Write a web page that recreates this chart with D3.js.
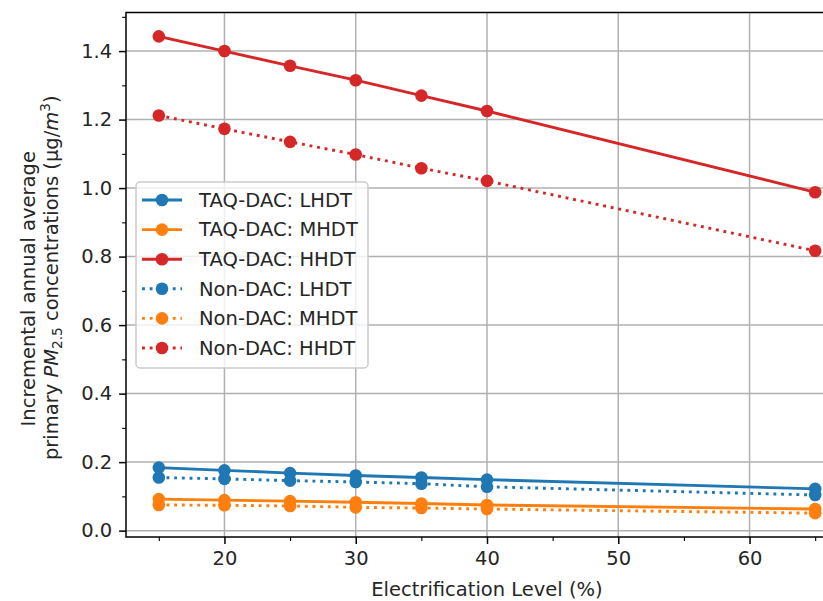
<!DOCTYPE html>
<html>
<head>
<meta charset="utf-8">
<script src="https://cdn.jsdelivr.net/npm/d3@7"></script>
<style>
  html, body { margin: 0; padding: 0; background: #fff; }
  svg { display: block; font-family: "DejaVu Sans", sans-serif; }
</style>
</head>
<body>
<svg id="chart" width="823" height="601"></svg>
<script>
// Electrification levels (%) on the x axis
const levels = [15, 20, 25, 30, 35, 40, 65];

// Incremental annual average primary PM2.5 (µg/m³)
const taqLHDT = [0.184, 0.176, 0.168, 0.161, 0.155, 0.149, 0.122];
const taqMHDT = [0.092, 0.089, 0.086, 0.083, 0.079, 0.075, 0.063];
const taqHHDT = [1.443, 1.400, 1.357, 1.315, 1.270, 1.225, 0.988];
const nonLHDT = [0.155, 0.151, 0.146, 0.142, 0.137, 0.128, 0.104];
const nonMHDT = [0.075, 0.074, 0.072, 0.068, 0.066, 0.063, 0.051];
const nonHHDT = [1.212, 1.173, 1.135, 1.098, 1.058, 1.021, 0.817];

const seriesNames = ["TAQ-DAC: LHDT", "TAQ-DAC: MHDT", "TAQ-DAC: HHDT",
                     "Non-DAC: LHDT", "Non-DAC: MHDT", "Non-DAC: HHDT"];
const seriesValues = [taqLHDT, taqMHDT, taqHHDT, nonLHDT, nonMHDT, nonHHDT];

const xTicks = [20, 30, 40, 50, 60];
const xMinorTicks = [15, 25, 35, 45, 55, 65];
const yTicks = [0.0, 0.2, 0.4, 0.6, 0.8, 1.0, 1.2, 1.4];
const yMinorTicks = [0.1, 0.3, 0.5, 0.7, 0.9, 1.1, 1.3, 1.5];

// styling
const colors = ["#1f77b4", "#ff7f0e", "#d62728", "#1f77b4", "#ff7f0e", "#d62728"];
const dotted = [false, false, false, true, true, true];
const FS = 19.5;
const LW = 2.9;
const MR = 6.3;

const svg = d3.select("#chart");
const plot = { left: 126, right: 848, top: 12.5, bottom: 537 };

// axis limits with 5% padding around the data
function padded(lo, hi) { const r = hi - lo; return [lo - 0.05 * r, hi + 0.05 * r]; }
const allVals = seriesValues.flat();
const xDom = padded(d3.min(levels), d3.max(levels));
const yDom = padded(d3.min(allVals), d3.max(allVals));

const x = d3.scaleLinear().domain(xDom).range([plot.left, plot.right]);
const y = d3.scaleLinear().domain(yDom).range([plot.bottom, plot.top]);

svg.append("defs").append("clipPath").attr("id", "clip")
  .append("rect").attr("x", plot.left).attr("y", plot.top)
  .attr("width", plot.right - plot.left).attr("height", plot.bottom - plot.top);

// grid
const grid = svg.append("g").attr("stroke", "#b0b0b0").attr("stroke-width", 1.5);
xTicks.forEach(t => grid.append("line")
  .attr("x1", x(t)).attr("x2", x(t)).attr("y1", plot.top).attr("y2", plot.bottom));
yTicks.forEach(t => grid.append("line")
  .attr("x1", plot.left).attr("x2", plot.right).attr("y1", y(t)).attr("y2", y(t)));

// axes
const xAxis = d3.axisBottom(x).tickValues(xTicks).tickFormat(d3.format("d"))
  .tickSize(6.9).tickPadding(6.9);
const xAxisMinor = d3.axisBottom(x).tickValues(xMinorTicks).tickFormat("").tickSize(3.9);
const yAxis = d3.axisLeft(y).tickValues(yTicks).tickFormat(d3.format(".1f"))
  .tickSize(6.9).tickPadding(6.9);
const yAxisMinor = d3.axisLeft(y).tickValues(yMinorTicks).tickFormat("").tickSize(3.9);

function styleAxis(g, w) {
  g.select(".domain").remove();
  g.selectAll(".tick line").attr("stroke", "#000").attr("stroke-width", w);
  g.selectAll(".tick text").attr("fill", "#262626").attr("font-size", FS)
    .attr("font-family", "DejaVu Sans");
}

const gx = svg.append("g").attr("transform", `translate(0,${plot.bottom})`).call(xAxis);
styleAxis(gx, 1.5);
gx.selectAll(".tick text").attr("dy", "0.71em");
const gxm = svg.append("g").attr("transform", `translate(0,${plot.bottom})`).call(xAxisMinor);
styleAxis(gxm, 1.1);
const gy = svg.append("g").attr("transform", `translate(${plot.left},0)`).call(yAxis);
styleAxis(gy, 1.5);
const gym = svg.append("g").attr("transform", `translate(${plot.left},0)`).call(yAxisMinor);
styleAxis(gym, 1.1);

// series
const lineGen = d3.line().x(d => x(d[0])).y(d => y(d[1]));
const marks = svg.append("g").attr("clip-path", "url(#clip)");
seriesValues.forEach((vals, i) => {
  const pts = levels.map((lv, j) => [lv, vals[j]]);
  const g = marks.append("g");
  g.append("path").datum(pts).attr("d", lineGen)
    .attr("fill", "none").attr("stroke", colors[i]).attr("stroke-width", LW)
    .attr("stroke-dasharray", dotted[i] ? `${LW * 1.0},${LW * 1.65}` : null)
    .attr("stroke-linecap", dotted[i] ? "butt" : "square");
  g.selectAll("circle").data(pts).join("circle")
    .attr("cx", d => x(d[0])).attr("cy", d => y(d[1])).attr("r", MR)
    .attr("fill", colors[i]);
});

// spines
const spines = svg.append("g").attr("stroke", "#000").attr("stroke-width", 1.5).attr("fill", "none");
spines.append("rect").attr("x", plot.left).attr("y", plot.top)
  .attr("width", plot.right - plot.left).attr("height", plot.bottom - plot.top);

// axis labels
svg.append("text").attr("x", x(40)).attr("y", 596)
  .attr("text-anchor", "middle").attr("font-size", FS).attr("fill", "#262626")
  .text("Electrification Level (%)");

const yl = svg.append("g").attr("transform", `translate(0,${(plot.top + plot.bottom) / 2}) rotate(-90)`);
yl.append("text").attr("x", -14).attr("y", 35)
  .attr("text-anchor", "middle").attr("font-size", FS).attr("fill", "#262626")
  .text("Incremental annual average");
const l2 = yl.append("text").attr("x", -3).attr("y", 58)
  .attr("text-anchor", "middle").attr("font-size", FS).attr("fill", "#262626");
l2.append("tspan").text("primary ");
l2.append("tspan").attr("font-style", "italic").text("PM");
l2.append("tspan").attr("font-size", FS * 0.7).attr("dy", 4).text("2.5");
l2.append("tspan").attr("dy", -4).text(" concentrations (μg/");
l2.append("tspan").attr("font-style", "italic").text("m");
l2.append("tspan").attr("font-size", FS * 0.7).attr("dy", -8).text("3");
l2.append("tspan").attr("dy", 8).text(")");

// legend
const leg = svg.append("g");
leg.append("rect").attr("x", 136).attr("y", 182).attr("width", 232).attr("height", 186)
  .attr("rx", 4).attr("fill", "#fff").attr("fill-opacity", 0.8)
  .attr("stroke", "#cccccc").attr("stroke-width", 1.5);
seriesNames.forEach((name, i) => {
  const cy = 200 + i * 29.6;
  const e = leg.append("g");
  e.append("line").attr("x1", 142).attr("x2", 182).attr("y1", cy).attr("y2", cy)
    .attr("stroke", colors[i]).attr("stroke-width", LW)
    .attr("stroke-dasharray", dotted[i] ? `${LW * 1.0},${LW * 1.65}` : null);
  e.append("circle").attr("cx", 162).attr("cy", cy).attr("r", MR).attr("fill", colors[i]);
  e.append("text").attr("x", 199).attr("y", cy).attr("dy", "0.35em")
    .attr("font-size", FS).attr("fill", "#262626").text(name);
});
</script>
</body>
</html>
